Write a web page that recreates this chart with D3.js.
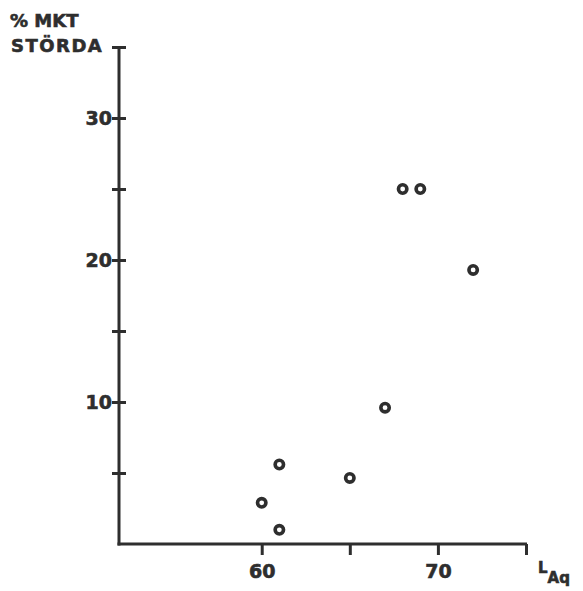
<!DOCTYPE html>
<html>
<head>
<meta charset="utf-8">
<script src="https://cdn.jsdelivr.net/npm/d3@7"></script>
<style>
  body { margin: 0; background: #fff; }
  text { font-family: "DejaVu Sans", sans-serif; font-weight: bold; fill: #2e2e2e; stroke: #2e2e2e; stroke-width: 0.6px; }
</style>
</head>
<body>
<svg width="583" height="591"></svg>
<script>
// points (L_Aq in dB, % very annoyed)
const LAQ = [60, 61, 61, 65, 67, 68, 69, 72];
const PCT = [2.9, 1.0, 5.6, 4.65, 9.6, 25, 25, 19.3];
const X_TICKS = [60, 65, 70, 75];
const X_LABELS = [60, 70];
const Y_TICKS = [5, 10, 15, 20, 25, 30, 35];
const Y_LABELS = [10, 20, 30];

const INK = '#2e2e2e';

const svg = d3.select('svg');

const xScale = d3.scaleLinear().domain([51.9, 75]).range([119, 526]);
const yScale = d3.scaleLinear().domain([0, 35]).range([544, 47]);

// y axis: ticks cross the line on both sides, labels only every 10
const yAxis = d3.axisLeft(yScale)
  .tickValues(Y_TICKS)
  .tickSizeInner(7)
  .tickSizeOuter(0)
  .tickFormat(d => Y_LABELS.includes(d) ? d : '');

const gy = svg.append('g')
  .attr('transform', `translate(${xScale(51.9)},0)`)
  .call(yAxis);
gy.select('.domain').attr('stroke', INK).attr('stroke-width', 3)
  .attr('d', `M0,${yScale(0) + 1.5}V${yScale(35)}`);
gy.selectAll('.tick line').attr('stroke', INK).attr('stroke-width', 3).attr('x1', 7);
gy.selectAll('.tick text')
  .attr('x', -7)
  .attr('dy', '0.36em')
  .style('font-size', '19px')
  .style('font-family', '"DejaVu Sans", sans-serif')
  .style('font-weight', 'bold')
  .attr('fill', INK);

// x axis: ticks hang down, only 60 and 70 labelled
const xAxis = d3.axisBottom(xScale)
  .tickValues(X_TICKS)
  .tickSizeInner(11)
  .tickSizeOuter(0)
  .tickFormat(d => X_LABELS.includes(d) ? d : '');

const gx = svg.append('g')
  .attr('transform', `translate(0,${yScale(0)})`)
  .call(xAxis);
gx.select('.domain').attr('stroke', INK).attr('stroke-width', 3)
  .attr('d', `M${xScale(51.9) - 1.5},0H${xScale(75) + 1}`);
gx.selectAll('.tick line').attr('stroke', INK).attr('stroke-width', 3);
gx.selectAll('.tick text')
  .attr('y', 21)
  .attr('dy', '0.71em')
  .style('font-size', '19px')
  .style('font-family', '"DejaVu Sans", sans-serif')
  .style('font-weight', 'bold')
  .attr('fill', INK);

// axis titles
svg.append('text').attr('x', 10).attr('y', 27).style('font-size', '18px').text('% MKT');
svg.append('text').attr('x', 11).attr('y', 52).style('font-size', '18px')
  .style('letter-spacing', '1.5px').text('STÖRDA');

const lab = svg.append('text').attr('x', 538).attr('y', 573).style('font-size', '15px');
lab.append('tspan').text('L');
lab.append('tspan').attr('dy', 10).text('Aq');

// ring markers
svg.selectAll('circle.pt')
  .data(LAQ.map((x, i) => ({ x, y: PCT[i] })))
  .enter()
  .append('circle')
  .classed('pt', true)
  .attr('cx', d => xScale(d.x))
  .attr('cy', d => yScale(d.y))
  .attr('r', 4.2)
  .attr('fill', 'none')
  .attr('stroke', INK)
  .attr('stroke-width', 3.6);
</script>
</body>
</html>
